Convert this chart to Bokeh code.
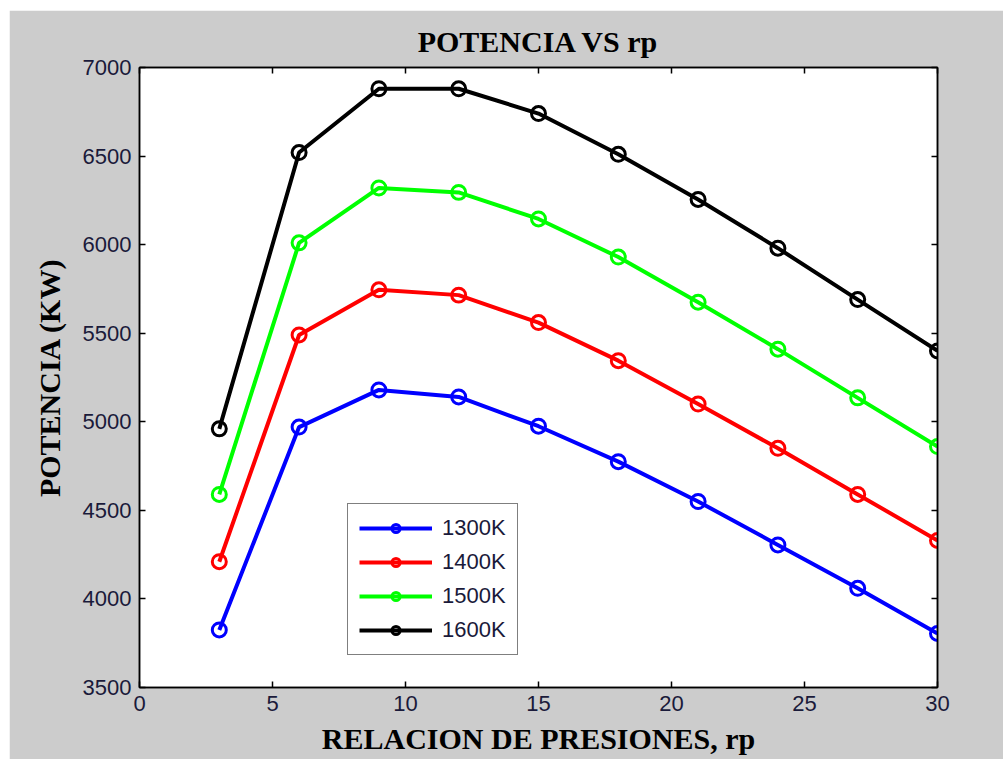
from bokeh.plotting import figure
from bokeh.models import (Legend, LegendItem, LinearAxis, FixedTicker, Range1d)
from bokeh.embed import file_html
from bokeh.resources import INLINE

rp = [3, 6, 9, 12, 15, 18, 21, 24, 27, 30]
p1300 = [3825, 4970, 5180, 5140, 4975, 4775, 4550, 4305, 4060, 3805]
p1400 = [4210, 5490, 5745, 5715, 5560, 5345, 5100, 4850, 4590, 4330]
p1500 = [4590, 6010, 6320, 6295, 6145, 5930, 5675, 5410, 5135, 4860]
p1600 = [4960, 6520, 6880, 6880, 6740, 6510, 6255, 5980, 5690, 5400]
series = [("1300K", p1300, "#0000ff"), ("1400K", p1400, "#ff0000"),
          ("1500K", p1500, "#00ff00"), ("1600K", p1600, "#000000")]
x_ticks = [0, 5, 10, 15, 20, 25, 30]
y_ticks = [3500, 4000, 4500, 5000, 5500, 6000, 6500, 7000]

GRAY = "#cccccc"
p = figure(width=994, height=749, output_backend="svg", toolbar_location=None,
           x_range=Range1d(0, 30), y_range=Range1d(3500, 7000),
           min_border_left=130, min_border_right=66, min_border_top=57, min_border_bottom=72,
           background_fill_color="white", border_fill_color=GRAY,
           outline_line_color="black", outline_line_width=1.5)
p.margin = (10, 0, 0, 9)
p.xgrid.visible = False
p.ygrid.visible = False

p.title.text = "POTENCIA VS rp"
p.title.align = "center"
p.title.text_font = "Liberation Serif"
p.title.text_font_size = "30px"
p.title.text_font_style = "bold"
p.title.text_color = "black"
p.title.offset = -8
p.title.standoff = 20

def style_axis(ax, label):
    ax.axis_line_color = "black"
    ax.axis_line_width = 1.5
    ax.major_tick_in = 6
    ax.major_tick_out = 0
    ax.major_tick_line_width = 1.5
    ax.minor_tick_line_color = None
    ax.major_label_text_font = "Liberation Sans"
    ax.major_label_text_font_size = "22px"
    ax.major_label_text_color = "#1a1a3a"
    ax.axis_label_text_font = "Liberation Serif"
    ax.axis_label_text_font_style = "bold"
    ax.axis_label_text_font_size = "30px"
    ax.axis_label_text_color = "black"
    if label:
        ax.axis_label = label

xa = p.xaxis[0]
ya = p.yaxis[0]
xa.ticker = FixedTicker(ticks=x_ticks)
ya.ticker = FixedTicker(ticks=y_ticks)
style_axis(xa, "RELACION DE PRESIONES, rp")
style_axis(ya, "POTENCIA (KW)")
xa.major_label_standoff = 8
xa.axis_label_standoff = 8
ya.major_label_standoff = 8
ya.axis_label_standoff = 14

top = LinearAxis(ticker=FixedTicker(ticks=x_ticks))
right = LinearAxis(ticker=FixedTicker(ticks=y_ticks))
for ax in (top, right):
    style_axis(ax, None)
    ax.major_label_text_font_size = "1px"
    ax.major_label_text_alpha = 0
    ax.major_label_standoff = 0
p.add_layout(top, "above")
p.add_layout(right, "right")

items = []
for name, vals, col in series:
    ln = p.line(rp, vals, line_color=col, line_width=4)
    sc = p.scatter(rp, vals, marker="circle", size=14, line_color=col, line_width=3,
                   fill_alpha=0)
    items.append(LegendItem(label=name, renderers=[ln, sc]))

legend = Legend(items=items, location=(208, 32))
legend.glyph_width = 73
legend.glyph_height = 20
legend.label_standoff = 10
legend.label_text_font = "Liberation Sans"
legend.label_text_font_size = "22px"
legend.label_text_color = "#1a1a3a"
legend.label_height = 20
legend.spacing = 8
legend.padding = 11
legend.margin = 0
legend.border_line_color = "black"
legend.border_line_width = 1.5
legend.background_fill_color = "white"
legend.background_fill_alpha = 1
p.add_layout(legend)

open("out.html", "w").write(file_html(p, INLINE))
